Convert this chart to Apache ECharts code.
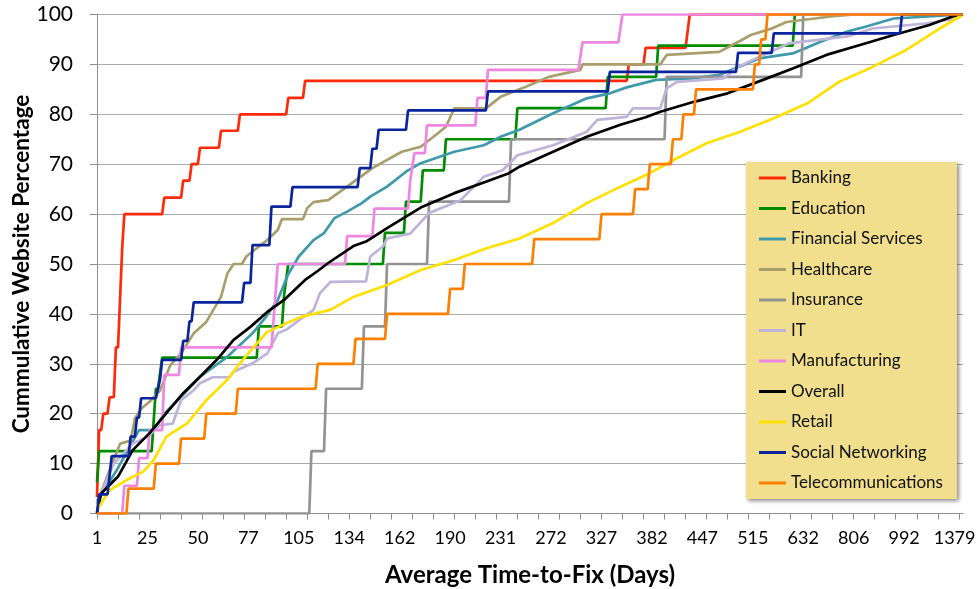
<!DOCTYPE html>

<head>
    <meta charset="utf-8">
    <title>ECharts</title>
</head>

<body style="margin:0">
    <div id="chart" style="width:978px;height:589px;"></div>
    <script type="text/javascript" src="https://cdn.jsdelivr.net/npm/echarts/dist/echarts.min.js"></script>
    <script>
        // x axis: 413 categories, a label every 24th one
        var xTickLabels = ['1', '25', '50', '77', '105', '134', '162', '190', '231', '272',
            '327', '382', '447', '515', '632', '806', '992', '1379'];
        var categoryCount = 413;

        // series values as [category index, percent]
        var banking = [[0, 3.3], [1, 16.7], [2, 16.7], [3, 20], [5, 20], [6, 23.3], [8, 23.3], [9, 33.3], [10, 33.3],
            [11, 43.3], [12, 53.3], [13, 60], [31, 60], [32, 63.3], [40, 63.3], [41, 66.7], [44, 66.7], [45, 70],
            [48, 70], [49, 73.3], [58, 73.3], [59, 76.7], [67, 76.7], [68, 80], [90, 80], [91, 83.3], [98, 83.3],
            [99, 86.7], [252, 86.7], [253, 90], [260, 90], [261, 93.3], [280, 93.3], [282, 100], [412, 100]];
        var education = [[0, 6.25], [1, 12.5], [26, 12.5], [27, 18.75], [28, 25], [29, 25], [31, 31.25], [76, 31.25],
            [77, 37.5], [88, 37.5], [89, 43.75], [91, 50], [136, 50], [137, 56.25], [146, 56.25], [147, 62.5],
            [154, 62.5], [155, 68.75], [165, 68.75], [166, 75], [199, 75], [200, 81.25], [242, 81.25], [243, 87.5],
            [266, 87.5], [267, 93.75], [331, 93.75], [332, 100], [412, 100]];
        var financial = [[0, 2.5], [9, 8.4], [20, 16.7], [27, 16.7], [32, 20], [40, 23.4], [49, 27.4], [62, 31.4],
            [74, 36.1], [80, 39.2], [86, 42.8], [91, 48], [96, 51.5], [103, 54.8], [108, 56.2], [113, 59.2],
            [119, 60.5], [126, 62.2], [130, 63.5], [138, 65.5], [147, 68.5], [154, 70.2], [170, 72.5], [184, 73.8],
            [192, 75.5], [201, 76.9], [217, 80.2], [233, 83.2], [244, 84.2], [252, 85.4], [266, 86.9], [283, 87.2],
            [296, 87.9], [315, 91.2], [331, 92.2], [344, 94.5], [357, 96.6], [366, 97.6], [379, 99.2], [412, 100]];
        var healthcare = [[0, 2], [6, 8.7], [11, 14], [16, 14.6], [18, 19], [21, 21], [25, 22.4], [30, 24.7],
            [35, 29.8], [40, 32.1], [46, 36.1], [52, 38.4], [59, 43.4], [62, 48.1], [65, 50], [69, 50], [71, 51.5],
            [81, 54.8], [86, 56.8], [88, 59], [98, 59], [100, 61.2], [103, 62.4], [110, 62.8], [119, 65.5],
            [131, 69.2], [145, 72.5], [154, 73.5], [161, 75.8], [166, 77.5], [170, 81.2], [185, 81.2], [192, 83.5],
            [204, 85.5], [215, 87.5], [230, 88.9], [231, 90], [268, 90], [271, 91.9], [296, 92.5], [305, 94.5],
            [311, 95.9], [321, 97.2], [328, 98.5], [349, 99.6], [360, 100], [412, 100]];
        var insurance = [[0, 0], [101, 0], [102, 12.5], [108, 12.5], [109, 25], [126, 25], [127, 37.5], [137, 37.5],
            [138, 50], [157, 50], [158, 62.5], [196, 62.5], [197, 75], [270, 75], [271, 87.5], [335, 87.5],
            [336, 100], [412, 100]];
        var it = [[0, 2], [8, 10], [17, 14], [24, 15.4], [30, 17.7], [36, 18], [40, 22.7], [46, 24.7], [49, 26.1],
            [55, 27.3], [63, 27.3], [65, 28.4], [74, 30.1], [81, 32.1], [86, 36.1], [90, 36.8], [95, 38.4],
            [103, 40.8], [106, 44.1], [111, 46.4], [128, 46.5], [130, 51.5], [136, 53.5], [138, 55.1], [149, 56.1],
            [158, 60.2], [173, 62.8], [184, 67.5], [193, 68.8], [200, 71.8], [217, 73.8], [233, 76.5], [238, 78.9],
            [252, 79.5], [255, 81.2], [268, 81.2], [271, 85.2], [276, 86.5], [298, 87.2], [305, 89.5], [315, 91.5],
            [329, 94.2], [357, 95.6], [369, 97.2], [394, 98.2], [409, 99.2], [412, 100]];
        var manufacturing = [[0, 0], [12, 0], [13, 5.56], [19, 5.56], [20, 11.1], [24, 11.1], [25, 16.7], [31, 16.7],
            [32, 27.8], [39, 27.8], [40, 33.3], [83, 33.3], [85, 44.4], [86, 50], [118, 50], [119, 55.6],
            [131, 55.6], [132, 61.1], [148, 61.1], [149, 66.7], [151, 72.2], [156, 72.2], [157, 77.8], [180, 77.8],
            [181, 83.3], [185, 83.3], [186, 88.9], [229, 88.9], [231, 94.4], [248, 94.4], [250, 100], [412, 100]];
        var overall = [[0, 0.2], [2, 4], [10, 7.4], [17, 12.7], [25, 16.1], [33, 20.1], [41, 24.1], [49, 27.4],
            [57, 30.8], [65, 34.8], [73, 37.4], [81, 40.4], [89, 42.8], [99, 46.8], [105, 48.6], [110, 50.2],
            [122, 53.6], [128, 54.5], [138, 57.2], [154, 61.3], [170, 64.2], [185, 66.5], [196, 68.2], [201, 69.5],
            [217, 72.5], [233, 75.5], [249, 77.9], [261, 79.4], [268, 80.5], [284, 82.5], [300, 84.2], [315, 86.6],
            [331, 89.2], [347, 91.9], [363, 93.9], [379, 95.9], [396, 97.9], [407, 99.6], [412, 100]];
        var retail = [[0, 0.8], [2, 2], [6, 4.7], [14, 6.7], [22, 8.4], [27, 10.7], [33, 15.4], [43, 18.1],
            [52, 22.7], [62, 26.8], [68, 30.1], [74, 33.1], [81, 36.4], [90, 38.1], [97, 39.4], [111, 40.8],
            [122, 43.4], [138, 45.8], [154, 48.8], [170, 50.8], [185, 53.1], [201, 55.1], [217, 58.2], [233, 62.2],
            [249, 65.5], [263, 68.2], [274, 70.8], [290, 74.2], [306, 76.5], [322, 79.2], [338, 82.2], [353, 86.5],
            [369, 89.5], [385, 92.9], [401, 97.2], [412, 100]];
        var social = [[0, 0], [1, 3.85], [5, 3.85], [7, 11.5], [15, 11.5], [16, 15.4], [18, 15.4], [19, 19.2],
            [20, 19.2], [21, 23.1], [28, 23.1], [30, 26.9], [31, 30.8], [40, 30.8], [41, 34.6], [43, 34.6],
            [44, 38.5], [45, 38.5], [46, 42.3], [69, 42.3], [70, 46.2], [73, 46.2], [74, 53.8], [82, 53.8],
            [83, 61.5], [92, 61.5], [93, 65.4], [124, 65.4], [125, 69.2], [130, 69.2], [131, 73.1], [133, 73.1],
            [134, 76.9], [147, 76.9], [148, 80.8], [185, 80.8], [186, 84.6], [243, 84.6], [244, 88.5], [304, 88.5],
            [305, 92.3], [321, 92.3], [322, 96.2], [382, 96.2], [383, 100], [412, 100]];
        var telecom = [[0, 0], [14, 0], [15, 5], [27, 5], [28, 10], [39, 10], [40, 15], [51, 15], [52, 20], [66, 20],
            [67, 25], [104, 25], [105, 30], [122, 30], [123, 35], [137, 35], [138, 40], [167, 40], [168, 45],
            [174, 45], [175, 50], [207, 50], [208, 55], [239, 55], [240, 60], [255, 60], [256, 65], [262, 65],
            [263, 70], [273, 70], [274, 75], [278, 75], [279, 80], [284, 80], [285, 85], [312, 85], [313, 90],
            [315, 90], [316, 95], [318, 95], [319, 100], [412, 100]];

        var seriesNames = ['Banking', 'Education', 'Financial Services', 'Healthcare', 'Insurance', 'IT',
            'Manufacturing', 'Overall', 'Retail', 'Social Networking', 'Telecommunications'];
        var seriesData = [banking, education, financial, healthcare, insurance, it,
            manufacturing, overall, retail, social, telecom];
        var colors = ['#FF2A0A', '#008C00', '#3E9AAB', '#A89F6D', '#939393', '#BEB3D9',
            '#EE86E2', '#000000', '#FFE000', '#0A249E', '#FF7F00'];

        var categories = [];
        for (var i = 0; i < categoryCount; i++) {
            categories.push(i % 24 === 0 ? xTickLabels[i / 24] : '');
        }

        var font = 'Lato, "Open Sans", sans-serif';
        var myChart = echarts.init(document.getElementById('chart'));
        var option = {
            animation: false,
            color: colors,
            textStyle: { fontFamily: font },
            grid: { left: 97, right: 15, top: 14.5, bottom: 75.5, outerBoundsMode: 'none' },
            legend: {
                orient: 'vertical',
                left: 746,
                top: 162,
                padding: [6, 14, 6, 13],
                itemGap: 10.5,
                icon: 'rect',
                itemWidth: 27,
                itemHeight: 3,
                backgroundColor: '#F2DF8D',
                shadowBlur: 4,
                shadowColor: 'rgba(0,0,0,0.45)',
                shadowOffsetX: 2,
                shadowOffsetY: 2,
                textStyle: { fontFamily: font, fontSize: 17, color: '#111', lineHeight: 20 },
                data: seriesNames
            },
            xAxis: {
                type: 'category',
                data: categories,
                boundaryGap: false,
                name: 'Average Time-to-Fix (Days)',
                nameLocation: 'middle',
                nameGap: 50,
                nameMoveOverlap: false,
                nameTextStyle: { fontFamily: font, fontSize: 24, fontWeight: 'bold', color: '#000' },
                axisLine: { lineStyle: { color: '#8E8E8E', width: 1 } },
                axisTick: { interval: 9, length: 6, lineStyle: { color: '#8E8E8E' } },
                axisLabel: { interval: 23, margin: 16, fontSize: 18, color: '#000', fontFamily: font },
                splitLine: { show: false }
            },
            yAxis: {
                type: 'value',
                min: 0,
                max: 100,
                interval: 10,
                name: 'Cummulative Website Percentage',
                nameLocation: 'middle',
                nameRotate: 90,
                nameGap: 64,
                nameMoveOverlap: false,
                nameTextStyle: { fontFamily: font, fontSize: 22.5, fontWeight: 'bold', color: '#000' },
                axisLine: { show: true, lineStyle: { color: '#8E8E8E', width: 1 } },
                axisTick: { show: true, length: 7, lineStyle: { color: '#8E8E8E' } },
                axisLabel: { margin: 24, fontSize: 21, color: '#000', fontFamily: font },
                splitLine: { lineStyle: { color: '#ABABAB', width: 1 } }
            },
            series: seriesNames.map(function (name, k) {
                return {
                    name: name,
                    type: 'line',
                    data: seriesData[k],
                    symbol: 'none',
                    lineStyle: { width: 2.7, color: colors[k] },
                    itemStyle: { color: colors[k] }
                };
            })
        };
        myChart.setOption(option);
    </script>
</body>
